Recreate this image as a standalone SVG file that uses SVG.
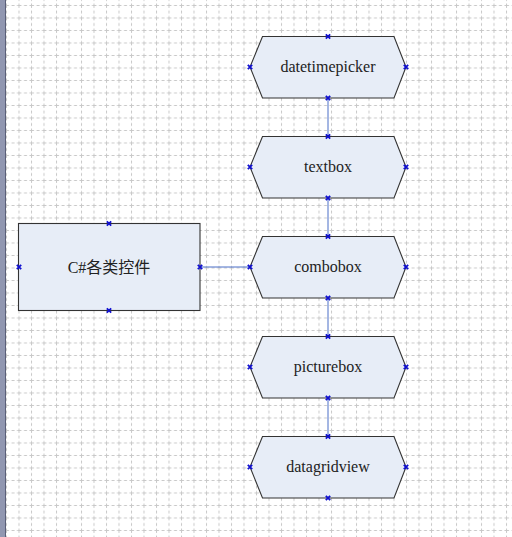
<svg xmlns="http://www.w3.org/2000/svg" xmlns:xlink="http://www.w3.org/1999/xlink" width="512" height="537" viewBox="0 0 512 537">
<style>
.shape{fill:#e7edf7;stroke:#333;stroke-width:1.1}
.lbl{font-family:"Liberation Serif","Noto Sans CJK SC",serif;font-size:16px;fill:#222;text-anchor:middle}
.conn{stroke:#4a6fc7;stroke-width:1;fill:none}
.pt{stroke:#1010d0;stroke-width:1.8;fill:none}
</style>
<defs>
<pattern id="grid" patternUnits="userSpaceOnUse" x="6" y="5" width="12.5" height="12.5">
<line x1="0.5" y1="0" x2="0.5" y2="12.5" stroke="#c8c8c8" stroke-width="1" stroke-dasharray="3,2.5"/>
<line x1="0" y1="0.5" x2="12.5" y2="0.5" stroke="#c8c8c8" stroke-width="1" stroke-dasharray="3,2.5"/>
</pattern>
<path id="x" class="pt" d="M-2.2,-2.2L2.2,2.2M-2.2,2.2L2.2,-2.2"/>
</defs>
<rect x="0" y="0" width="512" height="537" fill="#ffffff"/>
<rect x="6" y="0" width="506" height="537" fill="url(#grid)"/>
<rect x="0" y="0" width="5" height="537" fill="#9197b1"/>
<line x1="5.5" y1="0" x2="5.5" y2="537" stroke="#5a5f78" stroke-width="1"/>

<g id="connectors">
<line class="conn" x1="200" y1="267" x2="250" y2="267"/>
<line class="conn" x1="328" y1="98" x2="328" y2="136"/>
<line class="conn" x1="328" y1="198" x2="328" y2="236"/>
<line class="conn" x1="328" y1="298" x2="328" y2="336"/>
<line class="conn" x1="328" y1="398" x2="328" y2="436"/>
</g>

<g id="root">
<rect class="shape" x="18.5" y="223.5" width="181.5" height="87"/>
<text class="lbl" x="109" y="273">C#各类控件</text>
<use xlink:href="#x" x="109" y="223.5"/>
<use xlink:href="#x" x="109" y="310.5"/>
<use xlink:href="#x" x="19" y="267"/>
<use xlink:href="#x" x="200" y="267"/>
</g>

<g id="datetimepicker">
<polygon class="shape" points="250,67 262.5,36.5 394,36.5 406,67 394,98 262.5,98"/>
<text class="lbl" x="328" y="72">datetimepicker</text>
<use xlink:href="#x" x="328" y="36.5"/>
<use xlink:href="#x" x="328" y="98"/>
<use xlink:href="#x" x="250" y="67"/>
<use xlink:href="#x" x="406" y="67"/>
</g>

<g id="textbox">
<polygon class="shape" points="250,167 262.5,136.5 394,136.5 406,167 394,198 262.5,198"/>
<text class="lbl" x="328" y="172">textbox</text>
<use xlink:href="#x" x="328" y="136.5"/>
<use xlink:href="#x" x="328" y="198"/>
<use xlink:href="#x" x="250" y="167"/>
<use xlink:href="#x" x="406" y="167"/>
</g>

<g id="combobox">
<polygon class="shape" points="250,267 262.5,236.5 394,236.5 406,267 394,298 262.5,298"/>
<text class="lbl" x="328" y="272">combobox</text>
<use xlink:href="#x" x="328" y="236.5"/>
<use xlink:href="#x" x="328" y="298"/>
<use xlink:href="#x" x="250" y="267"/>
<use xlink:href="#x" x="406" y="267"/>
</g>

<g id="picturebox">
<polygon class="shape" points="250,367 262.5,336.5 394,336.5 406,367 394,398 262.5,398"/>
<text class="lbl" x="328" y="372">picturebox</text>
<use xlink:href="#x" x="328" y="336.5"/>
<use xlink:href="#x" x="328" y="398"/>
<use xlink:href="#x" x="250" y="367"/>
<use xlink:href="#x" x="406" y="367"/>
</g>

<g id="datagridview">
<polygon class="shape" points="250,467 262.5,436.5 394,436.5 406,467 394,498 262.5,498"/>
<text class="lbl" x="328" y="472">datagridview</text>
<use xlink:href="#x" x="328" y="436.5"/>
<use xlink:href="#x" x="328" y="498"/>
<use xlink:href="#x" x="250" y="467"/>
<use xlink:href="#x" x="406" y="467"/>
</g>
</svg>
